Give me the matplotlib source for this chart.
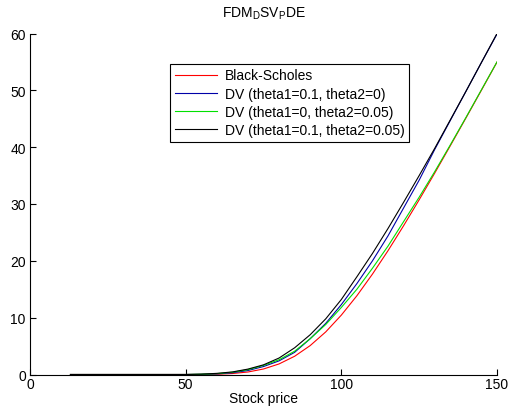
import matplotlib
matplotlib.use("Agg")
import matplotlib.pyplot as plt

plt.rcParams['font.family'] = ['Liberation Sans', 'DejaVu Sans']

# stock price grid
stock = [13, 20, 30, 40, 50, 55, 60, 65, 70, 75, 80, 85, 90, 95, 100,
         105, 110, 115, 120, 125, 130, 135, 140, 145, 150]

black_scholes = [0, 0, 0, 0, 0, 0.01, 0.05, 0.17, 0.44, 0.97, 1.86, 3.21, 5.09, 7.5, 10.45,
                 13.86, 17.67, 21.79, 26.18, 30.74, 35.44, 40.25, 45.11, 50.02, 54.97]
dv_01_0 = [0, 0, 0, 0, 0, 0.03, 0.1, 0.3, 0.7, 1.4, 2.4, 3.9, 6.3, 9.0, 12.3,
           16.0, 20.0, 24.4, 29.3, 34.2, 39.6, 44.7, 49.8, 54.9, 59.9]
dv_0_005 = [0, 0, 0, 0, 0, 0.05, 0.15, 0.4, 0.85, 1.6, 2.6, 4.1, 6.3, 8.8, 11.8,
            15.0, 18.7, 22.6, 26.9, 31.2, 35.7, 40.4, 45.2, 50.1, 55.0]
dv_01_005 = [0, 0, 0, 0, 0, 0.06, 0.2, 0.45, 0.95, 1.7, 2.9, 4.7, 7.0, 9.8, 13.2,
             17.2, 21.3, 25.7, 30.3, 35.0, 39.8, 44.8, 49.8, 54.9, 60.0]

labels = ['Black-Scholes', 'DV (theta1=0.1, theta2=0)',
          'DV (theta1=0, theta2=0.05)', 'DV (theta1=0.1, theta2=0.05)']

fig = plt.figure(figsize=(5.11, 4.10), dpi=100)
ax = fig.add_axes([30 / 511, 34.5 / 410, 467 / 511, 341 / 410])

ax.plot(stock, black_scholes, color='#ff0000', lw=0.8)
ax.plot(stock, dv_01_0, color='#0000a8', lw=0.8)
ax.plot(stock, dv_0_005, color='#00e000', lw=0.8)
ax.plot(stock, dv_01_005, color='#000000', lw=0.8)

ax.set_xlim(0, 150)
ax.set_ylim(0, 60)
ax.set_xticks([0, 50, 100, 150])
ax.set_yticks([0, 10, 20, 30, 40, 50, 60])
ax.tick_params(direction='in', length=4, labelsize=10, width=0.8)
ax.tick_params(axis='x', pad=1.5)
ax.tick_params(axis='y', pad=3)
ax.spines['top'].set_visible(False)
ax.spines['right'].set_visible(False)

ax.set_title('FDM$_\\mathregular{D}$SV$_\\mathregular{P}$DE', fontsize=10, pad=12)
ax.set_xlabel('Stock price', fontsize=10, labelpad=0)

leg = ax.legend(labels, loc='upper left', bbox_to_anchor=(0.2998, 0.912),
                fontsize=10, fancybox=False, framealpha=1, edgecolor='black',
                handlelength=3.0, handletextpad=0.6, labelspacing=0.3,
                borderpad=0.35, borderaxespad=0)
leg.get_frame().set_linewidth(0.8)

fig.savefig('out.png', dpi=100)
